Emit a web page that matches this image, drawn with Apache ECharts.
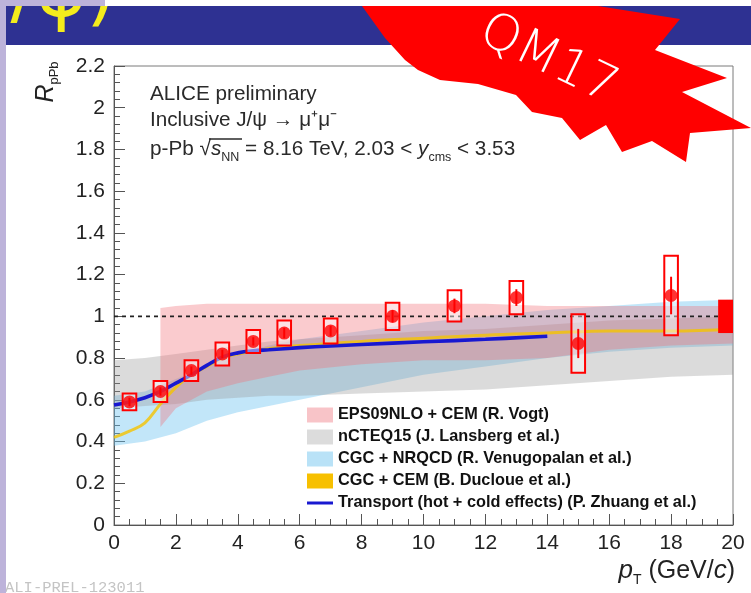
<!DOCTYPE html>
<html>
<head>
<meta charset="utf-8">
<script src="https://cdn.jsdelivr.net/npm/echarts@6/dist/echarts.min.js"></script>
<style>
  html, body { margin: 0; padding: 0; background: #fff; }
  #chart { width: 751px; height: 593px; }
</style>
</head>
<body>
<div id="chart"></div>
<script>
// ---- Measured J/psi R_pPb points ----
const ptPoints = [0.5, 1.5, 2.5, 3.5, 4.5, 5.5, 7, 9, 11, 13, 15, 18];
const rpPb     = [0.59, 0.64, 0.74, 0.82, 0.88, 0.92, 0.93, 1.00, 1.05, 1.09, 0.87, 1.10];
const statErr  = [0.02, 0.02, 0.02, 0.02, 0.02, 0.025, 0.025, 0.03, 0.035, 0.04, 0.07, 0.09];
const systErr  = [0.04, 0.05, 0.05, 0.055, 0.055, 0.06, 0.06, 0.065, 0.075, 0.08, 0.14, 0.19];
const globalErr = 0.08;

// ---- Model bands ----
const eps09Pt = [1.5, 2, 3, 4, 5, 6, 8, 10, 12, 14, 16, 18, 20];
const eps09Lo = [0.47, 0.56, 0.64, 0.68, 0.71, 0.74, 0.77, 0.79, 0.79, 0.80, 0.84, 0.86, 0.87];
const eps09Hi = [1.04, 1.05, 1.06, 1.06, 1.06, 1.06, 1.06, 1.06, 1.06, 1.05, 1.05, 1.05, 1.05];

const ncteqPt = [0, 1, 2, 3, 4, 5, 6, 8, 10, 12, 14, 16, 18, 20];
const ncteqLo = [0.56, 0.57, 0.58, 0.60, 0.61, 0.62, 0.62, 0.63, 0.64, 0.65, 0.67, 0.69, 0.71, 0.72];
const ncteqHi = [0.79, 0.80, 0.82, 0.84, 0.86, 0.88, 0.89, 0.91, 0.93, 0.94, 0.96, 0.98, 0.99, 1.00];

const nrqcdPt = [0, 1, 2, 3, 4, 5, 6, 8, 10, 12, 14, 16, 18, 20];
const nrqcdLo = [0.38, 0.40, 0.44, 0.50, 0.54, 0.57, 0.60, 0.66, 0.72, 0.76, 0.80, 0.83, 0.85, 0.86];
const nrqcdHi = [0.62, 0.64, 0.70, 0.76, 0.82, 0.86, 0.89, 0.93, 0.97, 1.00, 1.03, 1.05, 1.07, 1.08];

// ---- Model curves ----
const cemPt  = [0, 0.5, 1, 1.5, 2, 2.5, 3, 3.5, 4, 5, 6, 8, 10, 12, 14, 16, 18, 20];
const cemVal = [0.42, 0.45, 0.49, 0.58, 0.66, 0.72, 0.76, 0.80, 0.82, 0.845, 0.86, 0.88, 0.895, 0.91, 0.92, 0.93, 0.93, 0.94];

const transportPt  = [0, 0.5, 1, 1.5, 2, 2.5, 3, 3.5, 4, 4.5, 5, 6, 7, 8, 10, 12, 14];
const transportVal = [0.575, 0.59, 0.61, 0.64, 0.68, 0.72, 0.765, 0.805, 0.825, 0.835, 0.84, 0.85, 0.858, 0.865, 0.878, 0.89, 0.905];

// ---- Axis ticks ----
const xTicks = { min: 0, max: 20, step: 2 };
const yTicks = { min: 0, max: 2.2, step: 0.2 };

const names = {
  eps09: 'EPS09NLO + CEM (R. Vogt)',
  ncteq: 'nCTEQ15 (J. Lansberg et al.)',
  nrqcd: 'CGC + NRQCD (R. Venugopalan et al.)',
  cem: 'CGC + CEM (B. Ducloue et al.)',
  transport: 'Transport (hot + cold effects) (P. Zhuang et al.)'
};

const colors = {
  eps09: 'rgba(240,110,120,0.36)',
  ncteq: 'rgba(150,150,150,0.34)',
  nrqcd: 'rgba(110,195,240,0.42)',
  cem: 'rgba(245,195,0,0.8)',
  transport: '#1818d0',
  data: '#ff0000'
};

function bandSeries(name, xs, lo, hi, fill) {
  return {
    name: name,
    type: 'custom',
    clip: true,
    z: 1,
    silent: true,
    itemStyle: { color: fill },
    data: xs.map((x, i) => [x, lo[i], hi[i]]),
    encode: { x: 0, y: [1, 2] },
    renderItem: function (params, api) {
      if (params.dataIndex !== 0) return null;
      const pts = [];
      for (let i = 0; i < xs.length; i++) pts.push(api.coord([xs[i], hi[i]]));
      for (let i = xs.length - 1; i >= 0; i--) pts.push(api.coord([xs[i], lo[i]]));
      return { type: 'polygon', shape: { points: pts }, style: { fill: fill } };
    }
  };
}

const boxHalfWidth = 0.22;

const chart = echarts.init(document.getElementById('chart'), null, { renderer: 'canvas' });

const font = 'Liberation Sans, Arial, Helvetica, sans-serif';
const textColor = '#2a2a2a';

const option = {
  animation: false,
  backgroundColor: '#ffffff',
  grid: {
    left: 114, right: 18, top: 66, bottom: 68,
    show: true, borderColor: '#7a7a7a', borderWidth: 1, backgroundColor: 'transparent'
  },
  xAxis: {
    type: 'value', min: xTicks.min, max: xTicks.max, interval: xTicks.step,
    axisLine: { show: true, lineStyle: { color: '#555', width: 1 } },
    axisTick: { show: true, inside: true, length: 11, lineStyle: { color: '#555' } },
    minorTick: { show: true, splitNumber: 4, length: 6, lineStyle: { color: '#555' } },
    splitLine: { show: false },
    axisLabel: { fontFamily: font, fontSize: 21, color: '#222', margin: 8 }
  },
  yAxis: {
    type: 'value', min: yTicks.min, max: yTicks.max, interval: yTicks.step,
    axisLine: { show: true, lineStyle: { color: '#555', width: 1 } },
    axisTick: { show: true, inside: true, length: 11, lineStyle: { color: '#555' } },
    minorTick: { show: true, splitNumber: 5, length: 6, lineStyle: { color: '#555' } },
    splitLine: { show: false },
    axisLabel: {
      fontFamily: font, fontSize: 21, color: '#222', margin: 9,
      formatter: v => String(Math.round(v * 10) / 10)
    }
  },
  legend: {
    orient: 'vertical',
    left: 302, top: 402,
    itemWidth: 26, itemHeight: 15, itemGap: 6,
    symbolKeepAspect: true,
    selectedMode: false,
    textStyle: { fontFamily: font, fontSize: 16.3, lineHeight: 16, fontWeight: 'bold', color: '#111' },
    data: [
      { name: names.eps09, icon: 'rect', itemStyle: { color: '#f8c4c8' } },
      { name: names.ncteq, icon: 'rect', itemStyle: { color: '#dcdcdc' } },
      { name: names.nrqcd, icon: 'rect', itemStyle: { color: '#b9e2f7' } },
      { name: names.cem, icon: 'rect', itemStyle: { color: '#f7c000' } },
      { name: names.transport, icon: 'path://M0,0 L26,0 L26,3 L0,3 Z', itemStyle: { color: '#1818d0' } }
    ]
  },
  series: [
    bandSeries(names.nrqcd, nrqcdPt, nrqcdLo, nrqcdHi, colors.nrqcd),
    bandSeries(names.ncteq, ncteqPt, ncteqLo, ncteqHi, colors.ncteq),
    bandSeries(names.eps09, eps09Pt, eps09Lo, eps09Hi, colors.eps09),
    {
      name: names.cem, type: 'line', smooth: 0.4, symbol: 'none', z: 3,
      lineStyle: { color: colors.cem, width: 3 },
      itemStyle: { color: colors.cem },
      data: cemPt.map((x, i) => [x, cemVal[i]])
    },
    {
      name: names.transport, type: 'line', smooth: 0.4, symbol: 'none', z: 4,
      lineStyle: { color: colors.transport, width: 3.6 },
      itemStyle: { color: colors.transport },
      data: transportPt.map((x, i) => [x, transportVal[i]])
    },
    {
      name: 'unity', type: 'line', symbol: 'none', z: 5, silent: true,
      lineStyle: { color: '#222', width: 1.6, type: [4, 4] },
      data: [[xTicks.min, 1], [xTicks.max, 1]]
    },
    {
      name: 'syst', type: 'custom', z: 6, silent: true,
      data: ptPoints.map((x, i) => [x, rpPb[i], systErr[i]]),
      encode: { x: 0, y: 1 },
      renderItem: function (params, api) {
        const x = api.value(0), y = api.value(1), s = api.value(2);
        const p0 = api.coord([x - boxHalfWidth, y + s]);
        const p1 = api.coord([x + boxHalfWidth, y - s]);
        return {
          type: 'rect',
          shape: { x: p0[0], y: p0[1], width: p1[0] - p0[0], height: p1[1] - p0[1] },
          style: { fill: 'rgba(255,255,255,0.45)', stroke: colors.data, lineWidth: 2 }
        };
      }
    },
    {
      name: 'stat', type: 'custom', z: 7, silent: true,
      data: ptPoints.map((x, i) => [x, rpPb[i], statErr[i]]),
      encode: { x: 0, y: 1 },
      renderItem: function (params, api) {
        const x = api.value(0), y = api.value(1), s = api.value(2);
        const a = api.coord([x, y + s]);
        const b = api.coord([x, y - s]);
        return {
          type: 'line',
          shape: { x1: a[0], y1: a[1], x2: b[0], y2: b[1] },
          style: { stroke: colors.data, lineWidth: 2 }
        };
      }
    },
    {
      name: 'data', type: 'scatter', z: 8, silent: true,
      symbol: 'circle', symbolSize: 13,
      itemStyle: { color: colors.data },
      data: ptPoints.map((x, i) => [x, rpPb[i]])
    },
    {
      name: 'global', type: 'custom', z: 8, silent: true,
      data: [[xTicks.max, 1, globalErr]],
      encode: { x: 0, y: 1 },
      renderItem: function (params, api) {
        const x = api.value(0), y = api.value(1), s = api.value(2);
        const p0 = api.coord([x - 0.48, y + s]);
        const p1 = api.coord([x, y - s]);
        return {
          type: 'rect',
          shape: { x: p0[0], y: p0[1], width: p1[0] - p0[0], height: p1[1] - p0[1] },
          style: { fill: colors.data }
        };
      }
    }
  ],
  graphic: [
    // Slide header bar with the tail of its title
    { type: 'rect', z: 50, shape: { x: 5, y: 6, width: 746, height: 39 }, style: { fill: '#2e3192' } },
    { type: 'text', z: 51, x: 116, y: 34,
      style: { text: 'J/ψ)', fontFamily: 'DejaVu Sans', fontSize: 76, fill: '#f4ec1c', align: 'right', verticalAlign: 'bottom' } },
    // Conference badge
    { type: 'polygon', z: 60,
      shape: { points: [[362, 6], [598, 6], [680, 19], [655, 50], [727, 78], [682, 92], [751, 128], [690, 133], [686, 162], [652, 141], [622, 152], [606, 125], [580, 140], [562, 118], [532, 112], [516, 95], [478, 84], [440, 80], [418, 70], [405, 60], [385, 38]] },
      style: { fill: '#ff0000' } },
    { type: 'text', z: 61, x: 548, y: 60, rotation: -0.45,
      style: { text: 'QM17', fontFamily: 'DejaVu Sans', fontWeight: 'lighter', fontSize: 50, fill: '#ffffff', align: 'center', verticalAlign: 'middle' } },
    { type: 'rect', z: 70, shape: { x: 0, y: 0, width: 751, height: 6 }, style: { fill: '#ffffff' } },
    { type: 'rect', z: 71, shape: { x: 0, y: 0, width: 105, height: 6 }, style: { fill: '#bdb3da' } },
    { type: 'rect', z: 72, shape: { x: 0, y: 0, width: 6, height: 593 }, style: { fill: '#bdb3da' } },
    // Plot annotations
    { type: 'text', z: 20, left: 150, top: 84,
      style: { text: 'ALICE preliminary', fontFamily: font, fontSize: 20.7, fill: textColor } },
    { type: 'text', z: 20, left: 150, top: 110,
      style: { text: 'Inclusive J/ψ → μ⁺μ⁻', fontFamily: font, fontSize: 20.7, fill: textColor } },
    { type: 'text', z: 20, left: 150, top: 135,
      style: {
        text: 'p-Pb {r|√}{i|s}{sub|NN} = 8.16 TeV, 2.03 < {i|y}{sub|cms} < 3.53',
        fontFamily: font, fontSize: 20.7, fill: textColor, lineHeight: 29,
        rich: {
          r: { fontFamily: font, fontSize: 21, fill: textColor, lineHeight: 29 },
          i: { fontFamily: font, fontStyle: 'italic', fontSize: 20.7, fill: textColor, lineHeight: 29 },
          sub: { fontFamily: font, fontSize: 12.5, fill: textColor, lineHeight: 13, verticalAlign: 'bottom' }
        }
      } },
    // overbar of the square root
    { type: 'line', z: 20, shape: { x1: 209, y1: 139, x2: 242, y2: 139 }, style: { stroke: textColor, lineWidth: 1.3 } },
    // Axis titles
    { type: 'text', z: 20, x: 46, y: 82, rotation: Math.PI / 2,
      style: {
        text: '{r|R}{s|pPb}', align: 'center', verticalAlign: 'middle',
        rich: {
          r: { fontFamily: font, fontStyle: 'italic', fontSize: 25, fill: '#222', lineHeight: 30 },
          s: { fontFamily: font, fontSize: 13, fill: '#222', lineHeight: 12, verticalAlign: 'bottom' }
        }
      } },
    { type: 'text', z: 20, right: 16, top: 555,
      style: {
        text: '{i|p}{s|T} (GeV/{i|c})', fontFamily: font, fontSize: 25, fill: '#222', lineHeight: 32,
        rich: {
          i: { fontFamily: font, fontStyle: 'italic', fontSize: 26, fill: '#222', lineHeight: 32 },
          s: { fontFamily: font, fontSize: 14, fill: '#222', lineHeight: 12, verticalAlign: 'bottom' }
        }
      } },
    { type: 'text', z: 20, left: 5, top: 580,
      style: { text: 'ALI-PREL-123011', fontFamily: 'Liberation Mono, DejaVu Sans Mono, monospace', fontSize: 15.5, fill: '#c4c4c4' } }
  ]
};

chart.setOption(option);
</script>
</body>
</html>
